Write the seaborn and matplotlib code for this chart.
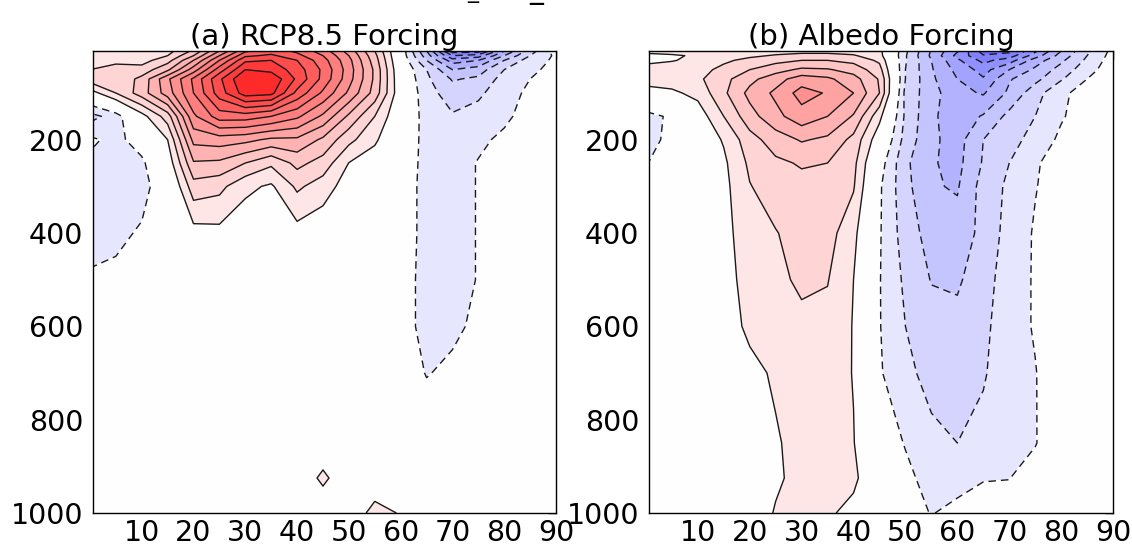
import matplotlib
matplotlib.use("Agg")
import matplotlib.pyplot as plt
import numpy as np
import seaborn as sns

# Zonal-mean zonal wind response, latitude (deg N) x pressure (hPa)
lat = [0, 5, 10, 15, 20, 25, 30, 35, 40, 45, 50, 55, 60, 65, 70, 75, 80, 85, 90]
pressure = [10, 20, 30, 50, 70, 100, 150, 200, 250, 300, 400, 500, 600, 700, 850, 925, 1000]

rcp85_response = [
    [1.6, 1.4, 1.3, 1.6, 3.2, 6.0, 8.8, 9.5, 8.8, 7.5, 5.6, 3.0, -0.3, -4.0, -8.5, -8.5, -5.0, -2.5, -0.5],
    [1.8, 1.5, 1.4, 2.0, 4.0, 7.0, 9.8, 10.2, 9.3, 8.0, 6.0, 3.3, -0.3, -3.5, -7.0, -6.5, -4.0, -2.0, -0.8],
    [1.5, 1.8, 1.6, 2.6, 5.0, 8.0, 10.8, 11.0, 10.0, 8.4, 6.3, 3.5, -0.2, -3.0, -5.5, -5.0, -3.0, -1.5, -0.8],
    [2.0, 2.3, 2.4, 3.8, 6.5, 9.5, 12.0, 11.7, 10.5, 8.8, 6.5, 3.8, 0.0, -2.0, -4.0, -3.5, -2.0, -1.2, -0.7],
    [2.5, 2.2, 3.3, 5.8, 8.2, 10.8, 13.0, 12.8, 10.8, 8.7, 6.4, 3.8, 0.1, -1.8, -3.1, -2.8, -1.6, -1.0, -0.6],
    [0.5, 2.0, 3.5, 5.5, 8.0, 10.5, 12.5, 12.3, 9.7, 7.8, 5.8, 3.6, 0.2, -1.6, -2.5, -2.2, -1.4, -0.8, -0.5],
    [-2.4, -1.5, 0.6, 2.5, 6.8, 8.5, 8.5, 8.0, 7.2, 5.8, 3.8, 2.0, 0.0, -1.4, -1.9, -1.6, -1.2, -0.6, -0.4],
    [-0.8, -1.3, -0.5, 1.0, 5.3, 5.5, 5.3, 4.8, 4.8, 3.8, 2.3, 1.2, -0.3, -1.3, -1.5, -1.2, -0.8, -0.5, -0.3],
    [-1.2, -1.3, -1.2, 0.3, 3.9, 3.8, 3.0, 2.2, 3.3, 2.6, 0.98, 0.4, -0.4, -1.3, -1.4, -0.95, -0.6, -0.3, -0.2],
    [-1.3, -1.3, -1.3, -0.4, 2.6, 2.3, 1.25, 0.85, 2.2, 1.5, 0.5, 0.2, -0.5, -1.3, -1.4, -0.95, -0.4, -0.2, -0.1],
    [-1.3, -1.2, -0.9, -0.3, 0.6, 0.7, 0.3, 0.2, 0.6, 0.3, 0.2, 0.1, -0.5, -1.3, -1.4, -0.95, -0.3, -0.1, 0.0],
    [-0.9, -0.8, -0.2, 0.0, 0.0, 0.0, 0.0, 0.0, 0.0, 0.0, 0.0, 0.0, -0.6, -1.3, -1.4, -0.95, -0.2, 0.0, 0.0],
    [-0.3, -0.2, 0.0, 0.0, 0.0, 0.0, 0.0, 0.0, 0.0, 0.0, 0.0, 0.0, -0.6, -1.3, -1.2, -0.8, -0.1, 0.0, 0.0],
    [-0.2, 0.0, 0.0, 0.0, 0.0, 0.0, 0.0, 0.0, 0.0, 0.0, 0.0, 0.0, -0.4, -1.05, -0.8, -0.4, 0.0, 0.0, 0.0],
    [0.0, 0.0, 0.0, 0.0, 0.0, 0.0, 0.0, 0.0, 0.0, 0.0, 0.0, 0.0, -0.1, -0.3, -0.2, -0.1, 0.0, 0.0, 0.0],
    [0.0, 0.0, 0.0, 0.0, 0.0, 0.0, 0.0, 0.0, 0.0, 1.3, 0.0, 0.0, 0.0, 0.0, 0.0, 0.0, 0.0, 0.0, 0.0],
    [0.0, 0.0, 0.0, 0.0, 0.0, 0.0, 0.0, 0.0, 0.0, 0.0, 0.0, 1.5, 0.9, 0.0, 0.0, 0.0, 0.0, 0.0, 0.0],
]

albedo_response = [
    [1.3, 1.3, 1.4, 1.4, 1.5, 1.6, 1.7, 1.7, 1.6, 1.3, -1.8, -4.1, -5.9, -8.5, -8.3, -6.2, -4.0, -2.2, -0.7],
    [0.7, 0.9, 1.1, 1.5, 1.8, 2.1, 2.3, 2.3, 2.1, 1.4, -1.9, -4.2, -6.3, -7.9, -7.5, -5.5, -3.6, -2.0, -0.6],
    [0.8, 0.95, 1.2, 1.8, 2.3, 2.7, 3.0, 3.0, 2.7, 1.8, -1.9, -4.0, -5.8, -7.3, -6.5, -4.5, -3.2, -1.8, -0.5],
    [1.3, 1.4, 1.6, 2.3, 3.0, 3.6, 4.2, 4.1, 3.6, 2.4, -2.0, -3.9, -5.3, -6.4, -5.0, -3.8, -2.6, -1.4, -0.4],
    [1.4, 1.5, 1.8, 2.7, 3.7, 4.6, 5.5, 5.2, 4.4, 2.9, -2.0, -3.8, -5.0, -5.9, -4.1, -3.3, -2.1, -1.0, -0.3],
    [0.6, 0.8, 1.3, 2.8, 4.3, 5.2, 6.4, 5.9, 5.0, 3.0, -2.3, -3.6, -4.7, -5.1, -3.8, -2.4, -1.2, -0.6, -0.2],
    [-1.4, -0.8, 0.4, 2.0, 3.6, 4.7, 5.6, 5.0, 3.9, 1.3, -2.2, -3.8, -4.6, -3.9, -2.7, -2.0, -1.1, -0.5, -0.1],
    [-1.4, -0.7, 0.2, 1.1, 2.6, 3.5, 4.1, 3.8, 2.7, 0.3, -2.4, -3.8, -4.4, -3.0, -2.4, -1.6, -0.8, -0.3, 0.0],
    [-1.05, -0.5, 0.1, 0.8, 2.2, 2.8, 3.1, 3.0, 2.3, -0.5, -2.8, -3.9, -4.3, -2.9, -2.0, -1.1, -0.6, -0.2, 0.0],
    [-0.5, -0.3, 0.1, 0.7, 1.95, 2.5, 2.7, 2.7, 2.1, -0.85, -2.7, -3.9, -4.1, -2.6, -1.8, -1.05, -0.5, -0.1, 0.0],
    [-0.3, 0.0, 0.1, 0.6, 1.7, 1.95, 2.4, 2.4, 1.3, -0.9, -2.5, -3.4, -3.6, -2.7, -1.6, -0.9, -0.3, 0.0, 0.0],
    [0.0, 0.0, 0.0, 0.5, 1.5, 1.8, 2.15, 2.05, 1.0, -0.95, -2.2, -3.05, -3.15, -2.4, -1.5, -0.9, -0.3, 0.0, 0.0],
    [0.0, 0.0, 0.0, 0.3, 1.3, 1.5, 1.8, 1.7, 0.95, -0.95, -2.0, -2.6, -2.7, -2.2, -1.5, -0.9, -0.2, 0.0, 0.0],
    [0.0, 0.0, 0.0, 0.2, 0.6, 1.2, 1.6, 1.6, 0.95, -0.9, -1.7, -2.4, -2.55, -2.1, -1.4, -1.05, -0.2, 0.0, 0.0],
    [0.0, 0.0, 0.0, 0.1, 0.4, 0.85, 1.5, 1.6, 1.05, -0.5, -1.05, -1.7, -2.0, -1.7, -1.4, -1.05, -0.3, 0.0, 0.0],
    [0.0, 0.0, 0.0, 0.0, 0.3, 0.8, 1.4, 1.6, 1.3, -0.3, -0.8, -1.3, -1.4, -1.05, -1.02, -0.6, -0.1, 0.0, 0.0],
    [0.0, 0.0, 0.0, 0.0, 0.2, 1.1, 1.3, 1.2, 0.6, 0.0, -0.5, -1.05, -0.7, -0.6, -0.6, -0.3, 0.0, 0.0, 0.0],
]

panel_titles = ["(a) RCP8.5 Forcing", "(b) Albedo Forcing"]
lat_ticks = [10, 20, 30, 40, 50, 60, 70, 80, 90]
pressure_ticks = [200, 400, 600, 800, 1000]
contour_levels = [v for v in range(-15, 16) if v != 0]

sns.set_theme(style="white")
plt.rcParams["font.family"] = ["DejaVu Sans"]
plt.rcParams["text.color"] = "black"
plt.rcParams["axes.titlecolor"] = "black"
plt.rcParams["axes.edgecolor"] = "black"
plt.rcParams["axes.linewidth"] = 1.0

fig = plt.figure(figsize=(11.32, 5.45), dpi=100)
ax_a = fig.add_axes([0.0822, 0.0587, 0.409, 0.8477])
ax_b = fig.add_axes([0.5733, 0.0587, 0.410, 0.8477])

for ax, field, title in zip([ax_a, ax_b], [rcp85_response, albedo_response], panel_titles):
    z = np.array(field)
    ax.contourf(lat, pressure, z, levels=contour_levels, cmap="bwr",
                vmin=-15, vmax=15, extend="both")
    ax.contour(lat, pressure, z, levels=contour_levels, colors="k",
               linewidths=1.0, negative_linestyles=(0, (5.5, 3.5)))
    ax.set_xlim(0.6, 90)
    ax.set_ylim(1000, 10)
    ax.set_xticks(lat_ticks)
    ax.set_yticks(pressure_ticks)
    ax.tick_params(direction="in", top=True, right=True, length=6, width=1,
                   labelsize=20.5, colors="black")
    ax.tick_params(axis="x", pad=4)
    ax.tick_params(axis="y", pad=7)
    ax.set_title(title, fontsize=21, pad=4, color="black")
    for s in ax.spines.values():
        s.set_visible(True)
        s.set_color("black")

# lower edge of the figure heading, cut by the page top
fig.text(0.4175, 1.0 + 2.0 / 545, "_", fontsize=16, ha="center", va="baseline")
fig.text(0.4735, 1.0 + 2.0 / 545, "_", fontsize=20, ha="center", va="baseline")

fig.savefig("out.png", dpi=100)
